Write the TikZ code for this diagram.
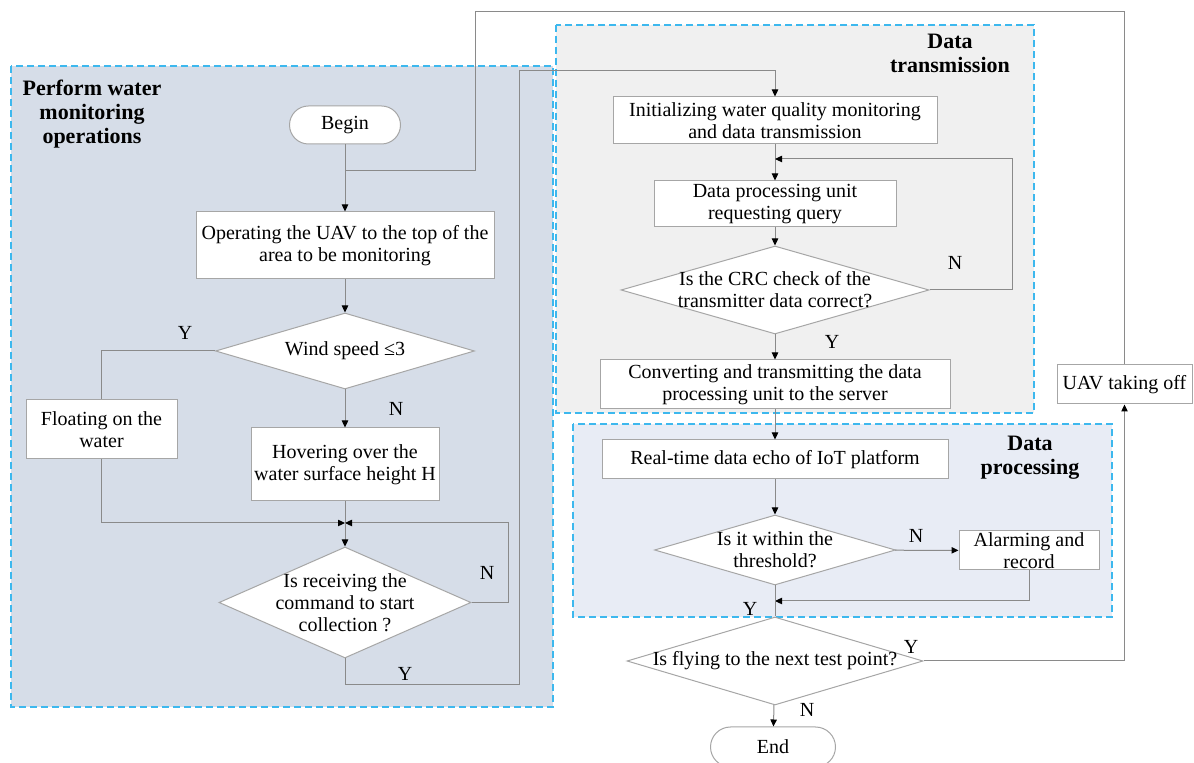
\documentclass[tikz,border=0pt]{standalone}
\usepackage{fontspec}
\setmainfont{Liberation Serif}
\usepackage{tikz}
\usetikzlibrary{shapes.geometric}
\usetikzlibrary{arrows.meta}

\definecolor{grpline}{HTML}{3DB8EE}
\definecolor{grpleft}{HTML}{D6DDE8}
\definecolor{grptrans}{HTML}{F0F0F0}
\definecolor{grpproc}{HTML}{E8ECF5}
\definecolor{edgegray}{HTML}{8A8A8A}
\definecolor{boxgray}{HTML}{A6A6A6}

\begin{document}
\begin{tikzpicture}[x=0.5pt, y=-0.5pt,
            font=\fontsize{10}{11}\selectfont,
            grp/.style={draw=grpline, line width=0.8pt, dash pattern=on 3.5pt off 2pt},
            grptitle/.style={font=\fontsize{11}{12}\selectfont\bfseries, align=center},
            proc/.style={rectangle, draw=boxgray, fill=white, line width=0.5pt, align=center, inner xsep=1pt, inner ysep=0pt},
            decision/.style={diamond, draw=boxgray, fill=white, line width=0.5pt, inner sep=0pt},
            term/.style={rectangle, rounded corners=9.5pt, draw=boxgray, fill=white, line width=0.5pt},
            conn/.style={draw=edgegray, line width=0.5pt},
            flow/.style={conn, -{Triangle[length=3.5pt, width=3.2pt, color=black]}},
            yn/.style={inner sep=0pt}
        ]
            \useasboundingbox (0,0) rectangle (1194,763);

            % groups
            \filldraw[grp, fill=grpleft] (11,66) rectangle (553,707);
            \filldraw[grp, fill=grptrans] (556,25) rectangle (1034,413);
            \filldraw[grp, fill=grpproc] (573,424) rectangle (1112,617);
            \node[grptitle] (tL) at (92,114) {Perform water\\monitoring\\operations};
            \node[grptitle] (tT) at (950,53) {Data\\transmission};
            \node[grptitle] (tP) at (1030,458) {Data\\processing};

            % monitoring operations
            \node[term, minimum width=55.5pt, minimum height=19pt] (begin) at (345,125) {Begin};
            \node[proc, minimum width=149pt, minimum height=33.5pt] (oper) at (345,245.5) {Operating the UAV to the top of the\\area to be monitoring};
            \node[decision, minimum width=129.5pt, minimum height=38pt, label={center:Wind speed ≤3}] (wind) at (345,351) {};
            \node[proc, minimum width=75.5pt, minimum height=29.5pt] (flt) at (101.5,429.5) {Floating on the\\water};
            \node[proc, minimum width=94pt, minimum height=36.5pt] (hover) at (345,464.5) {Hovering over the\\water surface height H};
            \node[decision, minimum width=126pt, minimum height=55.5pt, label={[align=center]center:Is receiving the\\command to start\\collection ?}] (recv) at (345,602.5) {};

            % data transmission
            \node[proc, minimum width=162pt, minimum height=23.5pt] (init) at (775,120.5) {Initializing water quality monitoring\\and data transmission};
            \node[proc, minimum width=121pt, minimum height=23pt] (dpu) at (775,204) {Data processing unit\\requesting query};
            \node[decision, minimum width=154pt, minimum height=44pt, label={[align=center]center:Is the CRC check of the\\transmitter data correct?}] (crc) at (775,290) {};
            \node[proc, minimum width=175pt, minimum height=24.5pt] (conv) at (775,384.5) {Converting and transmitting the data\\processing unit to the server};

            % data processing
            \node[proc, minimum width=173pt, minimum height=19.5pt] (rt) at (775,459.5) {Real-time data echo of IoT platform};
            \node[decision, minimum width=120.5pt, minimum height=35pt, label={[align=center]center:Is it within the\\threshold?}] (thr) at (775,550) {};
            \node[proc, minimum width=70pt, minimum height=19.5pt] (alarm) at (1029,550.5) {Alarming and\\record};

            \node[decision, minimum width=148pt, minimum height=44pt, label={center:Is flying to the next test point?}] (fly) at (775,661) {};
            \node[term, minimum width=62.5pt, minimum height=20pt, rounded corners=10pt] (end) at (773,747) {End};
            \node[proc, minimum width=67.5pt, minimum height=19.5pt] (uav) at (1124.5,384.5) {UAV taking off};

            % bends and joins
            \coordinate (topj) at (345,171);
            \coordinate (upL) at (475,12);
            \coordinate (mrg1) at (345,523);
            \coordinate (loopL) at (508,523);
            \coordinate (yb) at (519,685);
            \coordinate (yt) at (519,71);
            \coordinate (mrg2) at (775,159);
            \coordinate (loopT) at (1012,159);
            \coordinate (mrg3) at (775,601);

            \draw[conn] (uav.north) |- (upL) |- (topj);
            \draw[flow] (begin) -- (oper);
            \draw[flow] (oper) -- (wind);
            \draw[conn] (wind.west) -| (flt.north);
            \draw[flow] (wind) -- (hover);
            \draw[conn] (hover) -- (mrg1);
            \draw[flow] (flt.south) |- (mrg1);
            \draw[flow] (recv.east) -| (loopL) -- (mrg1);
            \draw[flow] (mrg1) -- (recv.north);
            \draw[flow] (recv.south) |- (yb) -- (yt) -| (init.north);

            \draw[flow] (init) -- (dpu);
            \draw[flow] (crc.east) -| (loopT) -- (mrg2);
            \draw[flow] (dpu) -- (crc);
            \draw[flow] (crc) -- (conv);
            \draw[flow] (conv) -- (rt);
            \draw[flow] (rt) -- (thr);
            \draw[flow] (thr) -- (alarm);
            \draw[flow] (alarm.south) |- (mrg3);
            \draw[conn] (thr) -- (fly);
            \draw[flow] (fly.east) -| (uav.south);
            \draw[flow] (fly) -- (end);

            % Y / N
            \node[yn] (yWind) at (185,333) {Y};
            \node[yn] (nWind) at (396,409) {N};
            \node[yn] (nRecv) at (487,573) {N};
            \node[yn] (yRecv) at (405,674) {Y};
            \node[yn] (nCrc) at (955,263) {N};
            \node[yn] (yCrc) at (832,342) {Y};
            \node[yn] (nThr) at (916,536) {N};
            \node[yn] (yThr) at (750,609) {Y};
            \node[yn] (yFly) at (911,647) {Y};
            \node[yn] (nFly) at (807,710) {N};
        \end{tikzpicture}
\end{document}
